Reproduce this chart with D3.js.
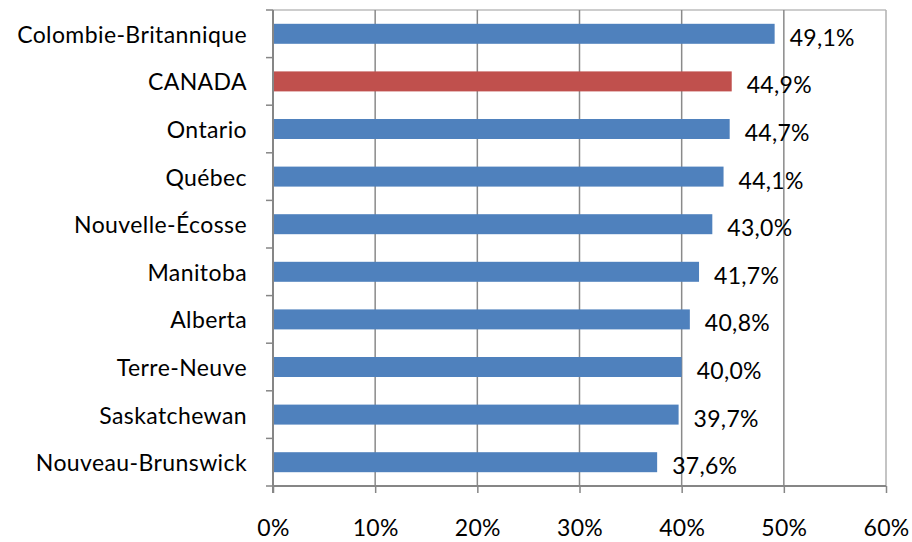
<!DOCTYPE html>
<html lang="fr">
<head>
<meta charset="utf-8">
<script src="https://d3js.org/d3.v7.min.js"></script>
<style>
  body { margin: 0; background: #fff; }
  #chart text { font-family: Lato, "Open Sans", sans-serif; fill: #000; }
</style>
</head>
<body>
<div id="chart"></div>
<script>
  "use strict";

  var provinces = ["Colombie-Britannique", "CANADA", "Ontario", "Québec", "Nouvelle-Écosse",
                   "Manitoba", "Alberta", "Terre-Neuve", "Saskatchewan", "Nouveau-Brunswick"];
  var valeurs = [49.1, 44.9, 44.7, 44.1, 43.0, 41.7, 40.8, 40.0, 39.7, 37.6];
  var xTicks = [0, 10, 20, 30, 40, 50, 60];

  var width = 912, height = 542;
  var margin = { top: 10, right: 26, bottom: 56, left: 273 };

  var svg = d3.select("#chart").append("svg")
      .attr("width", width)
      .attr("height", height);

  var x = d3.scaleLinear()
      .domain([0, 60])
      .range([margin.left, width - margin.right]);

  var y = d3.scaleBand()
      .domain(provinces)
      .range([margin.top, height - margin.bottom])
      .paddingInner(0.58)
      .paddingOuter(0.29);

  var yTop = margin.top, yBottom = height - margin.bottom;

  // cadre clair en haut et à droite
  svg.append("line")
      .attr("x1", x(0)).attr("x2", x(60))
      .attr("y1", yTop).attr("y2", yTop)
      .attr("stroke", "#bdbdbd").attr("stroke-width", 1.5);
  svg.append("line")
      .attr("x1", x(60)).attr("x2", x(60))
      .attr("y1", yTop).attr("y2", yBottom)
      .attr("stroke", "#b0b0b0").attr("stroke-width", 1.5);

  // grille verticale
  svg.selectAll("line.grid")
      .data(xTicks.filter(d => d > 0 && d < 60))
      .enter().append("line")
      .attr("class", "grid")
      .attr("x1", d => x(d)).attr("x2", d => x(d))
      .attr("y1", yTop).attr("y2", yBottom)
      .attr("stroke", "#8a8a8a").attr("stroke-width", 1.5);

  // barres
  svg.selectAll("rect.bar")
      .data(provinces)
      .enter().append("rect")
      .attr("class", "bar")
      .attr("x", x(0))
      .attr("y", d => y(d))
      .attr("width", (d, i) => x(valeurs[i]) - x(0))
      .attr("height", y.bandwidth())
      .attr("fill", d => d === "CANADA" ? "#c0504d" : "#4f81bd");

  // étiquettes de valeurs
  svg.selectAll("text.val")
      .data(provinces)
      .enter().append("text")
      .attr("class", "val")
      .attr("x", (d, i) => x(valeurs[i]) + 15)
      .attr("y", d => y(d) + y.bandwidth() / 2 + 3)
      .attr("dominant-baseline", "central")
      .style("font-size", "23px")
      .style("letter-spacing", "0.3px")
      .text((d, i) => valeurs[i].toFixed(1).replace(".", ",") + "%");

  // axe vertical : petites graduations entre les catégories
  var bounds = d3.range(provinces.length + 1).map(i => yTop + i * (yBottom - yTop) / provinces.length);
  var gy = svg.append("g")
      .attr("transform", "translate(" + x(0) + ",0)");
  gy.selectAll("line.yt")
      .data(bounds)
      .enter().append("line")
      .attr("x1", -7).attr("x2", 0)
      .attr("y1", d => d).attr("y2", d => d)
      .attr("stroke", "#868686").attr("stroke-width", 1.5);
  gy.append("line")
      .attr("x1", 0).attr("x2", 0)
      .attr("y1", yTop).attr("y2", yBottom + 7)
      .attr("stroke", "#868686").attr("stroke-width", 2);

  svg.selectAll("text.cat")
      .data(provinces)
      .enter().append("text")
      .attr("class", "cat")
      .attr("x", x(0) - 26)
      .attr("y", d => y(d) + y.bandwidth() / 2)
      .attr("text-anchor", "end")
      .attr("dominant-baseline", "central")
      .style("font-size", "23px")
      .style("letter-spacing", "0.4px")
      .text(d => d);

  // axe horizontal
  var xAxis = d3.axisBottom(x)
      .tickValues(xTicks)
      .tickSize(7)
      .tickPadding(27)
      .tickFormat(d => d + "%");
  var gx = svg.append("g")
      .attr("transform", "translate(0," + yBottom + ")")
      .call(xAxis);
  gx.select(".domain")
      .attr("stroke", "#868686").attr("stroke-width", 2)
      .attr("d", "M" + x(0) + ",0H" + x(60));
  gx.selectAll(".tick line").attr("stroke", "#868686").attr("stroke-width", 1.5);
  gx.selectAll(".tick text")
      .style("font-size", "23px")
      .style("letter-spacing", "0.3px");
</script>
</body>
</html>
